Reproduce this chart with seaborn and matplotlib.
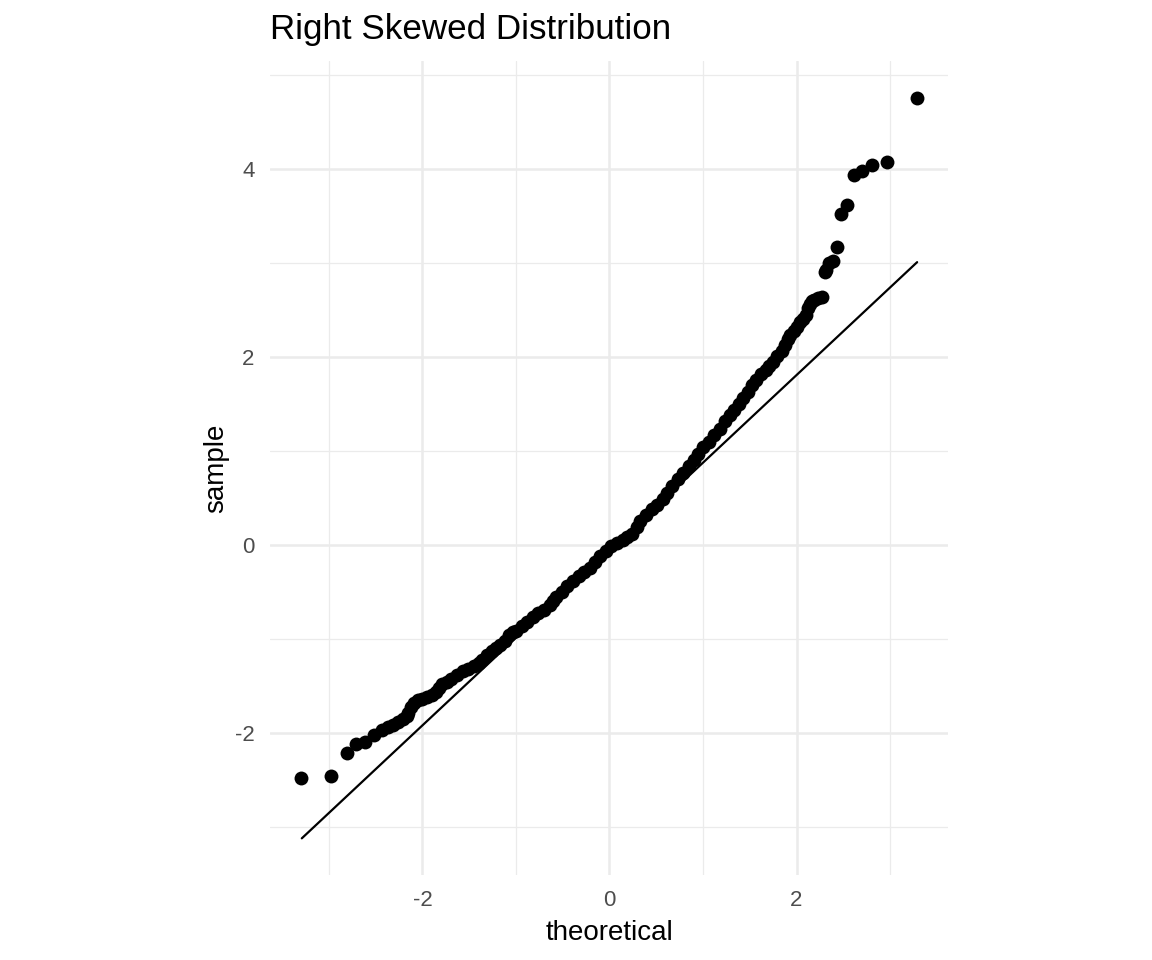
import matplotlib
matplotlib.use('Agg')
import pandas as pd
import seaborn as sns
import matplotlib.pyplot as plt
from matplotlib.ticker import MultipleLocator

#######################################################
### DATA
#######################################################
theoretical = [-3.30, -2.98, -2.81, -2.71, -2.61, -2.52, -2.43, -2.37, -2.31, -2.26,
               -2.21, -2.17, -2.15, -2.12, -2.09, -2.05, -2.00, -1.95, -1.90, -1.86,
               -1.82, -1.79, -1.74, -1.69, -1.63, -1.57, -1.51, -1.45, -1.40, -1.36,
               -1.31, -1.26, -1.21, -1.17, -1.12, -1.07, -1.03, -1.00, -0.94, -0.88,
               -0.82, -0.76, -0.70, -0.64, -0.60, -0.57, -0.51, -0.45, -0.39, -0.33,
               -0.27, -0.21, -0.15, -0.10, -0.04, 0.02, 0.08, 0.14, 0.19, 0.24,
               0.29, 0.33, 0.39, 0.45, 0.51, 0.57, 0.62, 0.67, 0.73, 0.79,
               0.85, 0.90, 0.95, 1.00, 1.06, 1.12, 1.18, 1.24, 1.29, 1.33,
               1.38, 1.43, 1.48, 1.52, 1.57, 1.62, 1.67, 1.71, 1.75, 1.79,
               1.84, 1.88, 1.91, 1.93, 1.97, 2.00, 2.04, 2.07, 2.10, 2.12,
               2.14, 2.17, 2.19, 2.23, 2.27, 2.30, 2.32, 2.35, 2.39, 2.43,
               2.48, 2.54, 2.61, 2.70, 2.81, 2.97, 3.29]
sample = [-2.48, -2.46, -2.21, -2.12, -2.09, -2.02, -1.97, -1.94, -1.91, -1.88,
          -1.85, -1.82, -1.79, -1.72, -1.68, -1.65, -1.64, -1.62, -1.59, -1.56,
          -1.52, -1.48, -1.46, -1.43, -1.38, -1.34, -1.32, -1.29, -1.25, -1.22,
          -1.17, -1.13, -1.10, -1.06, -1.02, -0.96, -0.93, -0.91, -0.86, -0.82,
          -0.77, -0.72, -0.69, -0.64, -0.59, -0.55, -0.50, -0.44, -0.38, -0.33,
          -0.29, -0.24, -0.18, -0.12, -0.06, -0.01, 0.02, 0.05, 0.09, 0.12,
          0.19, 0.26, 0.32, 0.38, 0.43, 0.49, 0.55, 0.63, 0.70, 0.77,
          0.84, 0.91, 0.97, 1.04, 1.10, 1.17, 1.24, 1.32, 1.38, 1.44,
          1.50, 1.56, 1.63, 1.70, 1.76, 1.82, 1.86, 1.90, 1.95, 2.01,
          2.07, 2.13, 2.19, 2.24, 2.28, 2.32, 2.37, 2.41, 2.45, 2.52,
          2.56, 2.60, 2.61, 2.63, 2.64, 2.91, 2.93, 3.00, 3.02, 3.17,
          3.52, 3.62, 3.94, 3.98, 4.04, 4.08, 4.76]

# reference line end points
line_x = [-3.29, 3.29]
line_y = [-3.12, 3.01]

df = pd.DataFrame({'theoretical': theoretical, 'sample': sample})
df_line = pd.DataFrame({'theoretical': line_x, 'sample': line_y})

#######################################################
### PLOT
#######################################################
sns.set_style('white')
plt.rcParams['font.family'] = ['Liberation Sans', 'DejaVu Sans']
plt.rcParams['axes.unicode_minus'] = False
plt.rcParams['text.color'] = 'black'
plt.rcParams['axes.labelcolor'] = 'black'

fig = plt.figure(figsize=(11.52, 9.6), dpi=100)
ax = fig.add_axes([270 / 1152, 85 / 960, 678 / 1152, 814 / 960])

sns.scatterplot(data=df, x='theoretical', y='sample', color='black',
                s=100, linewidth=0, ax=ax, zorder=3)
sns.lineplot(data=df_line, x='theoretical', y='sample', color='black',
             linewidth=1.6, ax=ax, zorder=4)

ax.set_xlim(-3.63, 3.62)
ax.set_ylim(-3.51, 5.15)

ax.xaxis.set_major_locator(MultipleLocator(2))
ax.xaxis.set_minor_locator(MultipleLocator(1))
ax.yaxis.set_major_locator(MultipleLocator(2))
ax.yaxis.set_minor_locator(MultipleLocator(1))
ax.grid(which='major', color='#EBEBEB', linewidth=1.8, zorder=0)
ax.grid(which='minor', color='#EBEBEB', linewidth=0.9, zorder=0)
ax.set_axisbelow(True)

for sp in ax.spines.values():
    sp.set_visible(False)
ax.tick_params(which='both', length=0, labelsize=16, labelcolor='#4D4D4D', pad=11)

ax.set_xlabel('theoretical', fontsize=20, labelpad=6, color='black')
ax.set_ylabel('sample', fontsize=20, labelpad=4, color='black')
ax.set_title('Right Skewed Distribution', loc='left', fontsize=25.2, pad=16,
             color='black')

plt.savefig('out.png', dpi=100)
